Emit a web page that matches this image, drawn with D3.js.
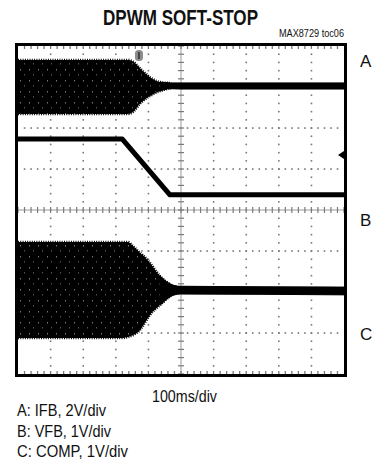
<!DOCTYPE html>
<html><head><meta charset="utf-8">
<script src="https://cdn.jsdelivr.net/npm/d3@7"></script>
<style>
html,body{margin:0;padding:0;background:#fff;}
svg{display:block;}
text{font-family:"Liberation Sans Narrow","Arial Narrow","Liberation Sans",Arial,sans-serif;fill:#111;}
</style></head><body>
<script>
// ---- data (time in ms, amplitude in screen divisions, 0 = bottom, 8 = top) ----
const title = "DPWM SOFT-STOP";
const figId = "MAX8729 toc06";
const timeLabel = "100ms/div";
const channelNames = ["A", "B", "C"];
const legendLines = ["A: IFB, 2V/div", "B: VFB, 1V/div", "C: COMP, 1V/div"];
const xTicks = [0,100,200,300,400,500,600,700,800,900,1000];
const yTicks = [0,1,2,3,4,5,6,7,8];

// Trace A (IFB) envelope
const tA   = [0, 337, 353, 374, 405, 436, 466, 497, 1000];
const aHi  = [7.66, 7.66, 7.62, 7.46, 7.24, 7.12, 7.10, 7.10, 7.10];
const aLo  = [6.34, 6.34, 6.39, 6.59, 6.78, 6.90, 6.96, 6.95, 6.95];
// Trace B (VFB)
const tB   = [0, 320, 466, 1000];
const bV   = [5.73, 5.73, 4.37, 4.37];
// Trace C (COMP) envelope
const tC   = [0, 322, 337, 353, 374, 383, 405, 436, 466, 497, 1000];
const cHi  = [3.22, 3.22, 3.22, 3.12, 2.96, 2.90, 2.71, 2.39, 2.20, 2.14, 2.12];
const cLo  = [0.88, 0.88, 0.90, 0.95, 1.07, 1.17, 1.44, 1.68, 1.88, 1.95, 1.93];
const burstEnd = 470;   // end of switching burst
// markers
const triggerTime = 371;
const levelMarker = 5.34;

// ---- drawing ----
const W = 377, H = 465;
const svg = d3.select("body").append("svg").attr("width", W).attr("height", H);
const x = d3.scaleLinear().domain([0, 1000]).range([18, 344]);
const y = d3.scaleLinear().domain([0, 8]).range([374, 46]);

const defs = svg.append("defs");
const pat = defs.append("pattern").attr("id", "speck").attr("patternUnits", "userSpaceOnUse")
  .attr("width", 9).attr("height", 11);
pat.append("rect").attr("width", 9).attr("height", 11).attr("fill", "#000");
pat.append("rect").attr("x", 2).attr("y", 3).attr("width", 1).attr("height", 1.5).attr("fill", "#777");
pat.append("rect").attr("x", 6).attr("y", 8).attr("width", 1).attr("height", 1.5).attr("fill", "#555");
defs.append("clipPath").attr("id", "burst").append("rect")
  .attr("x", x(0)).attr("y", y(8)).attr("width", x(burstEnd) - x(0)).attr("height", y(0) - y(8));

// title & labels
svg.append("text").attr("x", 180.5).attr("y", 25).attr("text-anchor", "middle")
  .attr("font-size", 21.5).attr("font-weight", "bold")
  .attr("textLength", 155).attr("lengthAdjust", "spacingAndGlyphs").text(title);
svg.append("text").attr("x", 344).attr("y", 37).attr("text-anchor", "end")
  .attr("font-size", 10.5).attr("textLength", 65).attr("lengthAdjust", "spacingAndGlyphs").text(figId);

const g = svg.append("g");
const minorX = d3.range(0, 1000.01, 20);
const minorY = d3.range(0, 8.001, 0.2);

// dotted grid
xTicks.slice(1, -1).filter(t => t !== 500).forEach(t => {
  g.selectAll(null).data(minorY.slice(1, -1)).enter().append("rect")
    .attr("x", x(t) - 0.75).attr("y", d => y(d) - 0.75).attr("width", 1.6).attr("height", 1.6).attr("fill", "#777");
});
yTicks.slice(1, -1).filter(v => v !== 4).forEach(v => {
  g.selectAll(null).data(minorX.slice(1, -1)).enter().append("rect")
    .attr("x", d => x(d) - 0.75).attr("y", y(v) - 0.75).attr("width", 1.6).attr("height", 1.6).attr("fill", "#777");
});
// center axes with ticks
g.append("line").attr("x1", x(500)).attr("x2", x(500)).attr("y1", y(0)).attr("y2", y(8)).attr("stroke", "#999").attr("stroke-width", 1);
g.append("line").attr("x1", x(0)).attr("x2", x(1000)).attr("y1", y(4)).attr("y2", y(4)).attr("stroke", "#999").attr("stroke-width", 1);
g.selectAll(null).data(minorY).enter().append("line")
  .attr("x1", x(500) - 3).attr("x2", x(500) + 3).attr("y1", d => y(d)).attr("y2", d => y(d))
  .attr("stroke", "#7a7a7a").attr("stroke-width", 1.2);
g.selectAll(null).data(minorX).enter().append("line")
  .attr("y1", y(4) - 3).attr("y2", y(4) + 3).attr("x1", d => x(d)).attr("x2", d => x(d))
  .attr("stroke", "#7a7a7a").attr("stroke-width", 1.2);
// edge ticks (top/bottom)
[8, 0].forEach(v => {
  const dir = v === 8 ? 1 : -1;
  g.selectAll(null).data(minorX.slice(1, -1)).enter().append("line")
    .attr("x1", d => x(d)).attr("x2", d => x(d)).attr("y1", y(v)).attr("y2", y(v) + dir * 3)
    .attr("stroke", "#7a7a7a").attr("stroke-width", 1.3);
});

// traces
const area = d3.area().x(d => x(d.t)).y0(d => y(d.lo)).y1(d => y(d.hi)).curve(d3.curveMonotoneX);
const hiLine = d3.line().x(d => x(d.t)).y(d => y(d.hi)).curve(d3.curveMonotoneX);
const loLine = d3.line().x(d => x(d.t)).y(d => y(d.lo)).curve(d3.curveMonotoneX);
const dataA = tA.map((t, i) => ({t, hi: aHi[i], lo: aLo[i]}));
const dataC = tC.map((t, i) => ({t, hi: cHi[i], lo: cLo[i]}));
[dataA, dataC].forEach(dd => {
  g.append("path").attr("d", area(dd)).attr("fill", "url(#speck)");
  // jagged comb along envelope edges during switching burst
  [hiLine, loLine].forEach(ln => {
    g.append("path").attr("d", ln(dd)).attr("fill", "none").attr("stroke", "#000")
      .attr("clip-path", "url(#burst)")
      .attr("stroke-width", 2.5).attr("stroke-dasharray", "1 1.3");
  });
  // solid settled trace
  const settled = dd.filter(d => d.t >= burstEnd - 40);
  g.append("path").attr("d", area(settled)).attr("fill", "#000")
    .attr("stroke", "#000").attr("stroke-width", 1);
});
const lineB = d3.line().x(d => x(d.t)).y(d => y(d.v));
g.append("path").attr("d", lineB(tB.map((t, i) => ({t, v: bV[i]}))))
  .attr("fill", "none").attr("stroke", "#000").attr("stroke-width", 5).attr("stroke-linejoin", "round");

// trigger marker (top) and level marker (right)
const tx = x(triggerTime);
g.append("rect").attr("x", tx - 4).attr("y", y(8) + 4).attr("width", 8).attr("height", 11).attr("rx", 3.5).attr("fill", "#8c8c8c");
g.append("rect").attr("x", tx - 1).attr("y", y(8) + 6).attr("width", 2).attr("height", 7).attr("fill", "#444");
g.append("path").attr("d", `M${x(1000) - 6},${y(levelMarker)} L${x(1000)},${y(levelMarker) - 4} L${x(1000)},${y(levelMarker) + 4} Z`).attr("fill", "#000");

// frame
svg.append("rect").attr("x", 16.5).attr("y", 44.5).attr("width", 329).attr("height", 331)
  .attr("fill", "none").attr("stroke", "#000").attr("stroke-width", 3);

// channel labels on right
const chanPos = [67, 226, 340];
channelNames.forEach((c, i) => {
  svg.append("text").attr("x", 360).attr("y", chanPos[i]).attr("font-size", 17).text(c);
});
// time scale
svg.append("text").attr("x", 184.5).attr("y", 402).attr("text-anchor", "middle").attr("font-size", 17)
  .attr("textLength", 65).attr("lengthAdjust", "spacingAndGlyphs").text(timeLabel);
// legend
const legW = [89, 94, 111];
legendLines.forEach((s, i) => {
  svg.append("text").attr("x", 17).attr("y", 416 + i * 20.7).attr("font-size", 17)
    .attr("textLength", legW[i]).attr("lengthAdjust", "spacingAndGlyphs").text(s);
});
</script>
</body></html>
